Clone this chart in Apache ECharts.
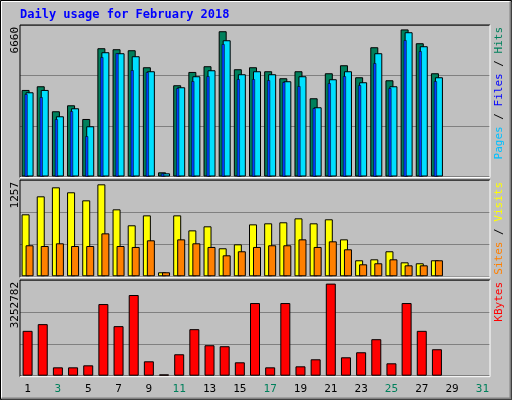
<!DOCTYPE html>
<html><head><meta charset="utf-8">
<script src="https://cdn.jsdelivr.net/npm/echarts@6/dist/echarts.min.js"></script>
<style>html,body{margin:0;padding:0;background:#c0c0c0}#c{width:512px;height:400px}</style>
</head><body><div id="c"></div>
<script>
const days = Array.from({length:31},(_, i)=>String(i+1));
const weekend = ['3','4','10','11','17','18','24','25','31'];
const hits = [3919,4086,2954,3225,2605,5808,5763,5718,4947,190,4132,4734,4993,6578,4857,4947,4766,4449,4766,3543,4675,5038,4494,5853,4358,6660,6035,4675,null,null,null];
const files = [3814,3919,2727,3090,2274,5627,5582,5446,4766,145,4041,4540,4811,6170,4630,4766,4630,4313,4540,3135,4404,4766,4268,5582,4086,6533,5899,4494,null,null,null];
const pages = [3724,3588,2591,2954,1821,5400,5582,4811,4721,140,3996,4313,4540,5989,4404,4404,4358,4268,4086,3090,4222,4540,4132,5129,3996,6170,5672,4313,null,null,null];
const visits = [847,1093,1216,1148,1038,1257,915,697,833,55,833,628,683,383,437,710,724,738,792,724,779,505,219,232,342,191,178,219,null,null,null];
const sites = [424,414,451,414,414,587,414,401,492,55,505,451,401,287,342,401,424,424,505,401,478,369,164,178,232,150,150,219,null,null,null];
const kbytes = [1585000,1821500,295700,295700,366700,2531000,1750500,2850600,508600,47000,757000,1644000,1076300,1040900,473100,2566700,295700,2566700,331200,579600,3252782,650500,828000,1289300,437600,2566700,1585000,934400,null,null,null];
const maxLabels = ['6660','1257','3252782'];
const axisMax = [6860, 1316, 3380500];

const grids = [
  {left:20, top:25, width:470, height:151.5},
  {left:20, top:180, width:470, height:96.3},
  {left:20, top:280, width:470, height:95.7}
];
function xa(g, show){
  return {type:'category', data:days, gridIndex:g, axisLine:{show:false}, axisTick:{show:false},
    axisLabel:{show:show, margin:8, fontFamily:'DejaVu Sans Mono', fontSize:11,
      color:(v)=>weekend.includes(v)?'#00805c':'#000'}};
}
function ya(g){
  return {type:'value', gridIndex:g, min:0, max:axisMax[g], interval:axisMax[g]/3,
    axisLabel:{show:false}, axisLine:{show:false}, axisTick:{show:false},
    splitLine:{show:true, lineStyle:{color:'#808080', width:1}}};
}
const bs = (c)=>({color:c, borderColor:'#000', borderWidth:1});
const ch = echarts.init(document.getElementById('c'), null, {renderer:'canvas'});
function vtext(x, y, rich, segs){
  return {type:'text', x:x, y:y, rotation:Math.PI/2,
    style:{text:segs, rich:rich, align:'right', verticalAlign:'middle', fontFamily:'DejaVu Sans Mono', fontSize:11}};
}
function box(g){
  const x0=g.left, y0=g.top, x1=g.left+g.width, y1=g.top+g.height+1;
  return [
    {type:'polyline', shape:{points:[[x0,y1],[x0,y0],[x1,y0]]}, style:{stroke:'#000', fill:null, lineWidth:1}, z:10},
    {type:'polyline', shape:{points:[[x1,y0],[x1,y1],[x0,y1]]}, style:{stroke:'#fff', fill:null, lineWidth:1}, z:10}
  ];
}
ch.setOption({
  animation:false,
  backgroundColor:'#c0c0c0',
  grid:grids,
  xAxis:[xa(0,false), xa(1,false), xa(2,true), xa(0,false)],
  yAxis:[ya(0), ya(1), ya(2), {type:'value', gridIndex:0, min:0, max:axisMax[0], show:false, splitLine:{show:false}}],
  series:[
    {type:'bar', xAxisIndex:0, yAxisIndex:0, data:hits, barWidth:8, barGap:'-50%', itemStyle:bs('#00805c')},
    {type:'bar', xAxisIndex:0, yAxisIndex:0, data:files, barWidth:8, barGap:'-50%', itemStyle:bs('#00e0ff')},
    {type:'bar', xAxisIndex:3, yAxisIndex:3, data:pages, barWidth:3, barGap:'0%', itemStyle:{color:'#0040ff', borderColor:'#000', borderWidth:0.5}, z:3},
    {type:'bar', xAxisIndex:3, yAxisIndex:3, data:[], barWidth:3, barGap:'0%'},
    {type:'bar', xAxisIndex:1, yAxisIndex:1, data:visits, barWidth:8, barGap:'-50%', itemStyle:bs('#ffff00')},
    {type:'bar', xAxisIndex:1, yAxisIndex:1, data:sites, barWidth:8, barGap:'-50%', itemStyle:bs('#ff8000')},
    {type:'bar', xAxisIndex:2, yAxisIndex:2, data:kbytes, barWidth:10, itemStyle:bs('#ff0000')}
  ],
  graphic:[
    {type:'rect', shape:{x:0.5,y:0.5,width:511,height:399}, style:{fill:null, stroke:'#000', lineWidth:1}},
    {type:'polyline', shape:{points:[[1.5,398],[1.5,1.5],[510,1.5]]}, style:{stroke:'#fff', fill:null, lineWidth:1}},
    {type:'polyline', shape:{points:[[510.5,1.5],[510.5,398.5],[1.5,398.5]]}, style:{stroke:'#808080', fill:null, lineWidth:2}},
    {type:'text', x:20, y:9, style:{text:'Daily usage for February 2018', fill:'#0000ff', fontFamily:'DejaVu Sans Mono', fontWeight:'bold', fontSize:12}},
    ...box(grids[0]), ...box(grids[1]), ...box(grids[2]),
    vtext(15, 27, {}, maxLabels[0]),
    vtext(15, 182, {}, maxLabels[1]),
    vtext(15, 282, {}, maxLabels[2]),
    vtext(499, 27, {p:{fill:'#00c0ff'}, s:{fill:'#000'}, f:{fill:'#0000ff'}, h:{fill:'#00805c'}}, '{p|Pages}{s| / }{f|Files}{s| / }{h|Hits}'),
    vtext(499, 182, {a:{fill:'#ff8000'}, s:{fill:'#000'}, b:{fill:'#ffff00'}}, '{a|Sites}{s| / }{b|Visits}'),
    vtext(499, 282, {k:{fill:'#ff0000'}}, '                  {k|KBytes}')
  ]
});
</script></body></html>
